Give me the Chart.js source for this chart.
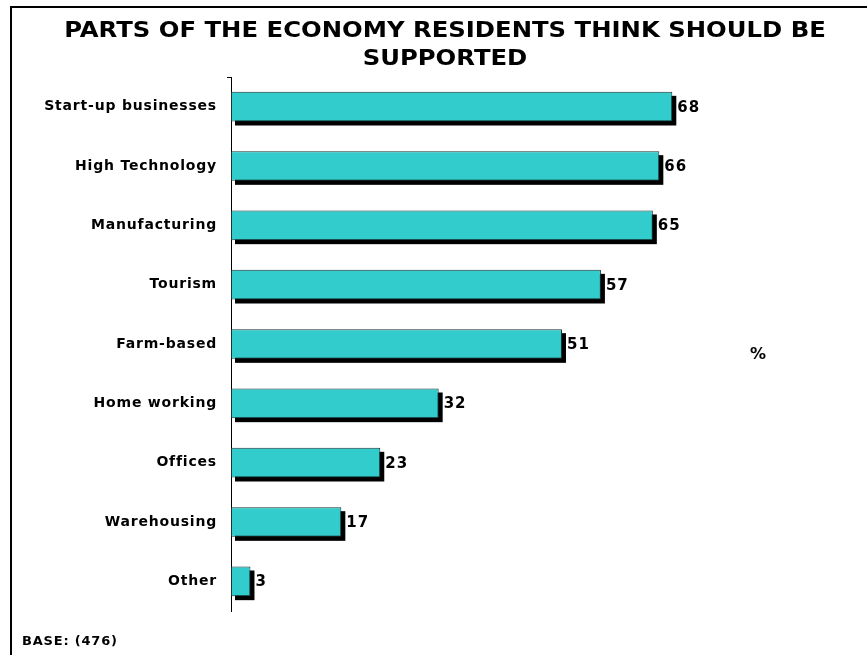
<!DOCTYPE html>
<html>
<head>
<meta charset="utf-8">
<script src="https://cdn.jsdelivr.net/npm/chart.js@4.4.1/dist/chart.umd.min.js"></script>
<style>
  html, body { margin: 0; padding: 0; background: #fff; }
  #wrap { position: relative; width: 867px; height: 655px; overflow: hidden; }
  #frame { position: absolute; left: 10px; top: 6px; width: 900px; height: 700px;
           border-left: 2px solid #000; border-top: 2px solid #000; box-sizing: border-box; }
  canvas { position: absolute; left: 0; top: 0; }
  .note { position: absolute; font-family: "DejaVu Sans", Verdana, sans-serif; font-weight: bold; color: #000; white-space: nowrap; }
  #title { left: 0; width: 890px; top: 16px; text-align: center; font-size: 21px; line-height: 28px;
           transform: scaleX(1.158); transform-origin: 445px 0; }
  #pct { left: 750px; top: 344px; font-size: 16px; }
  #base { left: 22px; top: 633px; font-size: 13px; letter-spacing: 0.8px; }
</style>
</head>
<body>
<div id="wrap">
  <div id="frame"></div>
  <canvas id="c" width="867" height="655"></canvas>
  <div class="note" id="title"></div>
  <div class="note" id="pct">%</div>
  <div class="note" id="base">BASE: (476)</div>
</div>
<script>
const titleLines = ["PARTS OF THE ECONOMY RESIDENTS THINK SHOULD BE", "SUPPORTED"];
const categories = ["Start-up businesses", "High Technology", "Manufacturing", "Tourism", "Farm-based", "Home working", "Offices", "Warehousing", "Other"];
const values = [68, 66, 65, 57, 51, 32, 23, 17, 3];
const FONT = '"DejaVu Sans", Verdana, sans-serif';

document.getElementById('title').innerHTML = titleLines.join('<br>');

const spacingPlugin = {
  id: 'spacing',
  beforeDraw(chart) { chart.ctx.letterSpacing = '0.8px'; }
};

const shadowPlugin = {
  id: 'barShadow',
  beforeDatasetsDraw(chart) {
    const ctx = chart.ctx;
    const meta = chart.getDatasetMeta(0);
    ctx.save();
    ctx.fillStyle = '#000';
    meta.data.forEach(bar => {
      const p = bar.getProps(['x', 'y', 'base', 'height'], true);
      const left = Math.min(p.base, p.x), w = Math.abs(p.x - p.base);
      ctx.fillRect(left + 4, p.y - p.height / 2 + 4, w, p.height);
    });
    ctx.restore();
  }
};

const labelPlugin = {
  id: 'valueLabels',
  afterDatasetsDraw(chart) {
    const ctx = chart.ctx;
    const meta = chart.getDatasetMeta(0);
    ctx.save();
    ctx.font = 'bold 15px ' + FONT;
    ctx.letterSpacing = '1px';
    ctx.fillStyle = '#000';
    ctx.textAlign = 'left';
    ctx.textBaseline = 'middle';
    meta.data.forEach((bar, i) => {
      ctx.fillText(String(values[i]), bar.x + 5, bar.y + 1);
    });
    ctx.restore();
  }
};

const topTickPlugin = {
  id: 'topTick',
  afterDraw(chart) {
    const ctx = chart.ctx;
    const a = chart.chartArea;
    ctx.save();
    ctx.strokeStyle = '#000';
    ctx.lineWidth = 1;
    ctx.beginPath();
    ctx.moveTo(a.left - 4, a.top + 0.5);
    ctx.lineTo(a.left, a.top + 0.5);
    ctx.stroke();
    ctx.restore();
  }
};

new Chart(document.getElementById('c'), {
  type: 'bar',
  data: {
    labels: categories,
    datasets: [{
      data: values,
      backgroundColor: '#33CCCC',
      borderColor: '#1a3333',
      borderWidth: 1,
      borderSkipped: false,
      categoryPercentage: 1.0,
      barPercentage: 0.5
    }]
  },
  options: {
    indexAxis: 'y',
    responsive: false,
    animation: false,
    devicePixelRatio: 1,
    layout: { padding: { left: 0, right: 0, top: 77, bottom: 44 } },
    plugins: {
      legend: { display: false },
      tooltip: { enabled: false },
      title: { display: false }
    },
    scales: {
      x: {
        display: false,
        min: 0,
        max: 98
      },
      y: {
        afterFit(scale) { scale.width = 231; },
        grid: { display: false, drawTicks: false },
        border: { display: true, color: '#000', width: 1 },
        ticks: {
          color: '#000',
          padding: 14,
          font: { family: FONT, size: 14, weight: 'bold' }
        }
      }
    }
  },
  plugins: [spacingPlugin, shadowPlugin, labelPlugin, topTickPlugin]
});
</script>
</body>
</html>
